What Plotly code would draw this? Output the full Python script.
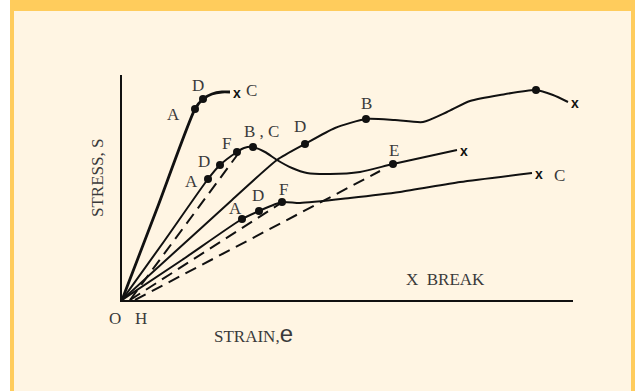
import plotly.graph_objects as go

# strain / stress in drawing units (origin at O)
c1_strain = [0, 36, 73, 81, 90, 100, 108]
c1_stress = [0, 94, 191, 201, 206, 208, 208]

c2_strain = [0, 43, 86, 98, 115, 122, 131, 143, 155, 170, 185, 208, 238, 271, 335]
c2_stress = [0, 60, 121, 135, 148, 152, 153, 148, 140, 132, 127, 126, 128, 136, 150]

c3_strain = [0, 60, 120, 137, 160, 178, 228, 278, 338, 410]
c3_stress = [0, 40, 81, 89, 98, 97, 102, 108, 118, 127]

c4_strain = [0, 55, 110, 155, 183, 213, 244, 273, 301, 325, 348, 378, 414, 431, 446]
c4_stress = [0, 50, 100, 140, 156, 172, 181, 180, 178, 188, 199, 205, 210, 205, 198]

# unloading (dashed) lines
d1_strain = [8, 116]
d1_stress = [0, 146]
d2_strain = [8, 159]
d2_stress = [0, 97]
d3_strain = [13, 258]
d3_stress = [0, 129]

# labelled points: (strain, stress)
dot_strain = [73, 81, 86, 98, 115, 131, 120, 137, 160, 183, 244, 414, 271]
dot_stress = [191, 201, 121, 135, 148, 153, 81, 89, 98, 156, 181, 210, 136]

# point labels: text, strain, stress
label_text = ["A", "D", "C", "A", "D", "F", "B , C", "A", "D", "F", "D", "B", "C", "E", "C"]
label_strain = [51, 76, 129, 69, 82, 104, 139, 113, 136, 161, 178, 244, 413, 272, 437]
label_stress = [186, 215, 210, 119, 139, 157, 169, 92, 105, 111, 174, 197, 227, 150, 125]

# break marks sit just past each curve's last point
break_strain = [c1_strain[-1], c2_strain[-1], c3_strain[-1], c4_strain[-1]]
break_stress = [c1_stress[-1], c2_stress[-1], c3_stress[-1], c4_stress[-1]]

FONT = "Liberation Serif, Times New Roman, serif"
INK = "#111111"
TXT = "#3a3a3a"

fig = go.Figure()


def curve(xs, ys, width=2.0, dash=None, shape="spline"):
    fig.add_trace(go.Scatter(
        x=xs, y=ys, mode="lines",
        line={"color": INK, "width": width, "shape": shape, "smoothing": 0.6,
              **({"dash": dash} if dash else {})},
        hoverinfo="skip", showlegend=False, cliponaxis=False,
    ))


curve(c1_strain, c1_stress, width=2.8)
curve(c2_strain, c2_stress)
curve(c3_strain, c3_stress)
curve(c4_strain, c4_stress)
curve(d1_strain, d1_stress, dash="12px,7px", shape="linear")
curve(d2_strain, d2_stress, dash="12px,7px", shape="linear")
curve(d3_strain, d3_stress, dash="12px,7px", shape="linear")

fig.add_trace(go.Scatter(
    x=dot_strain, y=dot_stress, mode="markers",
    marker={"size": 8, "color": INK},
    hoverinfo="skip", showlegend=False, cliponaxis=False,
))


def text(x, y, t, size=17, dx=0, dy=0, **kw):
    fig.add_annotation(x=x, y=y, text=t, showarrow=False, xshift=dx, yshift=dy,
                       font={"family": FONT, "size": size, "color": TXT}, **kw)


for t, x, y in zip(label_text, label_strain, label_stress):
    text(x, y, t)

for x, y in zip(break_strain, break_stress):
    fig.add_annotation(x=x, y=y, text="<b>x</b>", showarrow=False, xshift=7, yshift=-1,
                       font={"family": "Liberation Sans, Arial", "size": 14, "color": INK})

text(323, 21, "X  BREAK")
text(0, 0, "O", dx=-7, dy=-18)
text(0, 0, "H", dx=19, dy=-18)
text(0, 0, "STRAIN,<span style='font-size:24px;font-family:Liberation Sans'>e</span>",
     size=17, dx=131, dy=-33)
text(0, 122, "STRESS, S", size=17, dx=-25, textangle=-90)

# plot area spans O (122,300) to (573,75) in page pixels
L, R, T, B = 122, 62, 75, 91
W, H = 635, 391
PW, PH = W - L - R, H - T - B


def px(x):
    return (x - L) / PW


def py(y):
    return (H - B - y) / PH


YELLOW = "#FFCC5C"
frame = [
    (0, 0, 10, H, "#FFFFFF"),
    (10, 0, W, 11, YELLOW),
    (10, 0, 14, H, YELLOW),
    (631, 0, W, H, YELLOW),
]
for x0, y0, x1, y1, c in frame:
    fig.add_shape(type="rect", xref="paper", yref="paper",
                  x0=px(x0), x1=px(x1), y0=py(y0), y1=py(y1),
                  fillcolor=c, line={"width": 0}, layer="below")

fig.update_layout(
    width=W, height=H,
    margin={"l": L, "r": R, "t": T, "b": B},
    paper_bgcolor="#FFF5E3",
    plot_bgcolor="rgba(0,0,0,0)",
    xaxis={"range": [0, PW], "showgrid": False, "zeroline": False, "showticklabels": False,
           "ticks": "", "showline": True, "linecolor": INK, "linewidth": 1.5},
    yaxis={"range": [0, PH], "showgrid": False, "zeroline": False, "showticklabels": False,
           "ticks": "", "showline": True, "linecolor": INK, "linewidth": 1.5},
)

fig.write_html("out.html", config={"displayModeBar": False},
               post_script="document.body.style.margin='0';")
